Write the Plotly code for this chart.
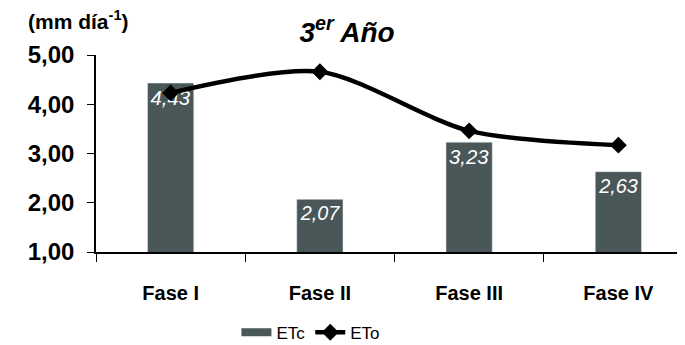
import plotly.graph_objects as go

categories = ["Fase I", "Fase II", "Fase III", "Fase IV"]
tick_labels = ["<b>Fase I</b>", "<b>Fase II</b>", "<b>Fase III</b>", "<b>Fase IV</b>"]
etc_values = [4.43, 2.07, 3.23, 2.63]
eto_values = [4.23, 4.66, 3.46, 3.17]
etc_labels = ["4,43", "2,07", "3,23", "2,63"]
y_ticks = [1, 2, 3, 4, 5]
y_tick_labels = ["1,00", "2,00", "3,00", "4,00", "5,00"]

FONT = "Liberation Sans, Arial, sans-serif"
BAR_COLOR = "#4a5759"

fig = go.Figure()
fig.add_trace(go.Bar(
    x=categories, y=etc_values, name="ETc", showlegend=False,
    marker=dict(color=BAR_COLOR), width=0.31,
    text=etc_labels, textposition="inside", insidetextanchor="end",
    textfont=dict(color="white", size=22, family=FONT),
    texttemplate="<i>%{text}</i>", textangle=0,
))
# legend proxy for the bars (wide swatch like the original)
fig.add_trace(go.Scatter(
    x=[None], y=[None], name="ETc", mode="lines",
    line=dict(color=BAR_COLOR, width=8),
))
fig.add_trace(go.Scatter(
    x=categories, y=eto_values, name="ETo", mode="lines+markers",
    line=dict(color="black", width=4.5, shape="spline", smoothing=0.8),
    marker=dict(symbol="diamond", size=13, color="black"),
))

fig.update_layout(
    width=685, height=345,
    paper_bgcolor="white", plot_bgcolor="white",
    margin=dict(l=88, r=0, t=47, b=101),
    font=dict(family=FONT, color="black"),
    title=dict(text="<b><i>3<sup>er</sup> Año</i></b>", x=0.495, xanchor="center",
               y=0.93, yanchor="middle", font=dict(size=28, color="black")),
    showlegend=True,
    legend=dict(orientation="h", x=0.36, xanchor="center", y=-0.41, yanchor="middle",
                font=dict(size=17, family=FONT), traceorder="normal",
                itemwidth=30),
    bargap=0.5,
)
fig.update_xaxes(
    tickvals=categories, ticktext=tick_labels, range=[-0.5, 3.5],
    showline=True, linecolor="black", linewidth=1.5,
    ticks="outside", tickson="boundaries", ticklen=8, tickcolor="black",
    tickfont=dict(size=20, color="black"), showgrid=False,
    ticklabelstandoff=22,
)
fig.update_yaxes(
    range=[1, 5], tickvals=y_ticks, ticktext=["<b>%s</b>" % t for t in y_tick_labels],
    showline=True, linecolor="black", linewidth=1.5,
    ticks="outside", ticklen=7, tickcolor="black",
    tickfont=dict(size=24, color="black"), showgrid=False, zeroline=False,
    ticklabelstandoff=8,
)
fig.add_annotation(
    text="<b>(mm día<sup>-1</sup>)</b>", xref="paper", yref="paper",
    x=-0.118, y=1.178, xanchor="left", yanchor="middle", showarrow=False,
    font=dict(size=21, color="black"),
)

fig.write_html("out.html")
